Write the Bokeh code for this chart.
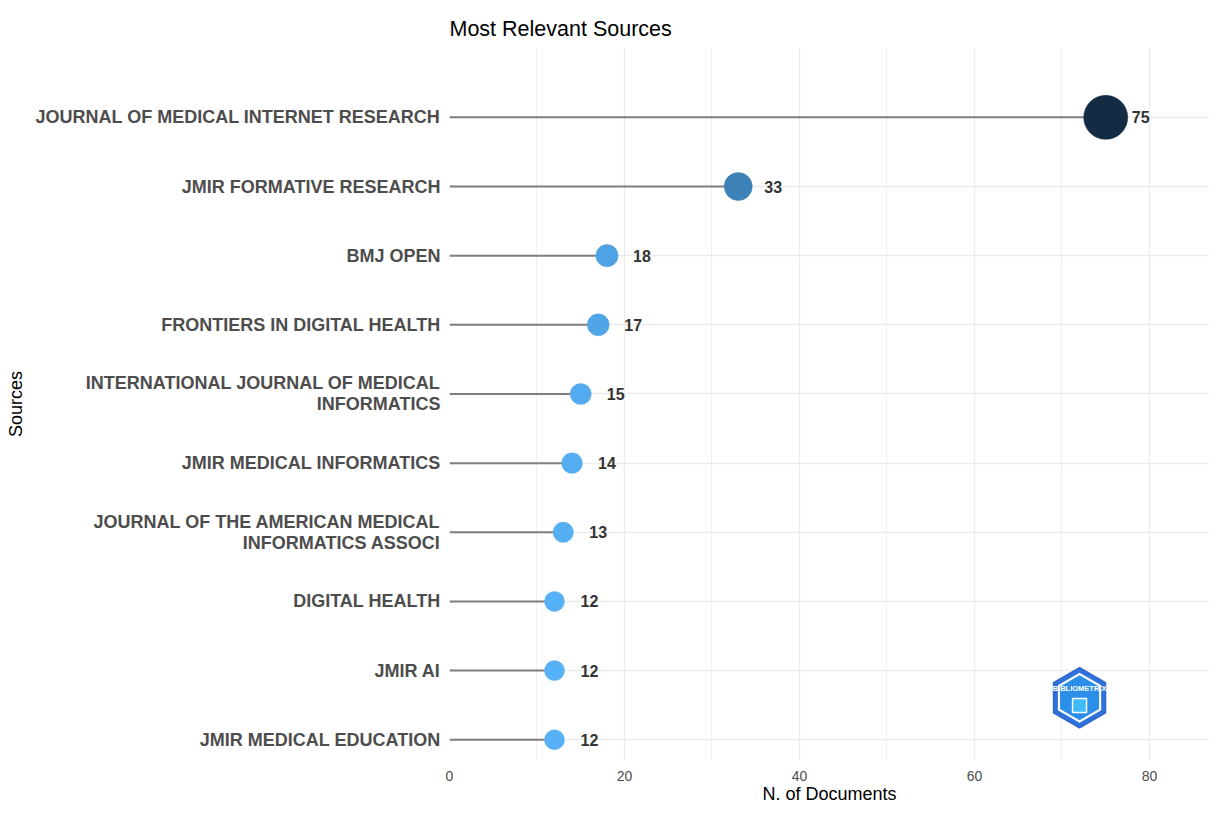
import math
from bokeh.plotting import figure
from bokeh.models import FixedTicker, SingleIntervalTicker, Range1d
from bokeh.embed import file_html
from bokeh.resources import INLINE
from bokeh.core.properties import value

# ---------------- data ----------------
sources = [
    "JOURNAL OF MEDICAL INTERNET RESEARCH",
    "JMIR FORMATIVE RESEARCH",
    "BMJ OPEN",
    "FRONTIERS IN DIGITAL HEALTH",
    "INTERNATIONAL JOURNAL OF MEDICAL\nINFORMATICS",
    "JMIR MEDICAL INFORMATICS",
    "JOURNAL OF THE AMERICAN MEDICAL\nINFORMATICS ASSOCI",
    "DIGITAL HEALTH",
    "JMIR AI",
    "JMIR MEDICAL EDUCATION",
]
documents = [75, 33, 18, 17, 15, 14, 13, 12, 12, 12]
x_tick_values = [0, 20, 40, 60, 80]

# ---------------- helpers ----------------
def _lin(c):
    c = c / 255.0
    return c / 12.92 if c <= 0.04045 else ((c + 0.055) / 1.055) ** 2.4

def _gam(c):
    c = 12.92 * c if c <= 0.0031308 else 1.055 * c ** (1 / 2.4) - 0.055
    return max(0, min(255, round(c * 255)))

def hex_to_lab(h):
    r, g, b = (_lin(int(h[i:i + 2], 16)) for i in (1, 3, 5))
    X = (0.4124 * r + 0.3576 * g + 0.1805 * b) / 0.95047
    Y = (0.2126 * r + 0.7152 * g + 0.0722 * b)
    Z = (0.0193 * r + 0.1192 * g + 0.9505 * b) / 1.08883
    f = lambda t: t ** (1 / 3) if t > 0.008856 else 7.787 * t + 16 / 116
    fx, fy, fz = f(X), f(Y), f(Z)
    return 116 * fy - 16, 500 * (fx - fy), 200 * (fy - fz)

def lab_to_hex(L, a, b):
    fy = (L + 16) / 116
    fx = fy + a / 500
    fz = fy - b / 200
    fi = lambda t: t ** 3 if t ** 3 > 0.008856 else (t - 16 / 116) / 7.787
    X, Y, Z = fi(fx) * 0.95047, fi(fy), fi(fz) * 1.08883
    r = 3.2406 * X - 1.5372 * Y - 0.4986 * Z
    g = -0.9689 * X + 1.8758 * Y + 0.0415 * Z
    bb = 0.0557 * X - 0.2040 * Y + 1.0570 * Z
    return "#%02x%02x%02x" % (_gam(r), _gam(g), _gam(bb))

low_col, high_col = "#56B1F7", "#132B43"
lab_lo, lab_hi = hex_to_lab(low_col), hex_to_lab(high_col)
vmin, vmax = min(documents), max(documents)

def colour_for(v):
    t = (v - vmin) / (vmax - vmin)
    return lab_to_hex(*[lo + (hi - lo) * t for lo, hi in zip(lab_lo, lab_hi)])

def size_for(v):
    return 20 + 24 * (v - vmin) / (vmax - vmin)

n = len(sources)
positions = [n - i for i in range(n)]  # top item highest
colours = [colour_for(v) for v in documents]
sizes = [size_for(v) for v in documents]
zeros = [0] * n
labels = [str(v) for v in documents]

FONT = "Liberation Sans"

# ---------------- figure ----------------
p = figure(
    width=1209, height=806,
    output_backend="svg", toolbar_location=None,
    x_range=Range1d(0, 86.86), y_range=Range1d(0.70, 11.01),
    min_border_left=449, min_border_right=0, min_border_top=47, min_border_bottom=40,
    title="Most Relevant Sources",
)
p.outline_line_color = None
p.background_fill_color = "white"
p.border_fill_color = "white"

p.title.text_font = FONT
p.title.text_font_size = "21.5px"
p.title.text_font_style = "normal"
p.title.text_color = "black"
p.title.align = "left"
p.title.standoff = 13

# grids
p.xaxis.ticker = SingleIntervalTicker(interval=20, num_minor_ticks=2)
p.xgrid.grid_line_color = "#EBEBEB"
p.xgrid.grid_line_width = 1.3
p.xgrid.minor_grid_line_color = "#F0F0F0"
p.xgrid.minor_grid_line_width = 1.0
p.yaxis.ticker = FixedTicker(ticks=positions)
p.ygrid.grid_line_color = "#EBEBEB"
p.ygrid.grid_line_width = 1.3

# lollipops
p.segment(x0=zeros, y0=positions, x1=documents, y1=positions,
          line_color="#7F7F7F", line_width=2)
p.scatter(x=documents, y=positions, size=sizes, fill_color=colours,
          line_color=colours, line_width=0.5)
p.text(x=documents, y=positions, text=labels, x_offset=35,
       text_align="center", text_baseline="middle",
       text_font=value(FONT), text_font_size="16px", text_font_style="bold",
       text_color="#333333")

# logo (approximation of the bibliometrix badge), placed by fractions of the ranges
xr, yr = p.x_range, p.y_range
lx = xr.start + (xr.end - xr.start) * 0.829
ly = yr.start + (yr.end - yr.start) * 0.088
dy = (yr.end - yr.start) * 0.011
p.scatter(x=[lx], y=[ly], marker="hex", size=60, angle=math.pi / 6,
          fill_color="#2F72DA", line_color="#2F6AD0", line_width=1.5)
p.scatter(x=[lx], y=[ly], marker="hex", size=50, angle=math.pi / 6,
          fill_color="white", line_color=None)
p.scatter(x=[lx], y=[ly], marker="hex", size=45, angle=math.pi / 6,
          fill_color="#2B8EE8", line_color=None)
p.scatter(x=[lx], y=[ly - dy], marker="square", size=14,
          fill_color="#3DBBF7", line_color="white", line_width=1.5)
p.text(x=[lx], y=[ly], text=["BIBLIOMETRIX"], y_offset=-9,
       text_align="center", text_baseline="middle",
       text_font=value(FONT), text_font_size="7.5px", text_font_style="bold",
       text_color="white")

# axes
p.xaxis.axis_label = "N. of Documents"
p.xaxis.axis_label_text_font = FONT
p.xaxis.axis_label_text_font_size = "18px"
p.xaxis.axis_label_text_font_style = "normal"
p.xaxis.axis_label_text_color = "black"
p.xaxis.axis_label_standoff = 0
p.xaxis.major_label_text_font = FONT
p.xaxis.major_label_text_font_size = "14px"
p.xaxis.major_label_text_color = "#4D4D4D"
p.xaxis.major_label_standoff = 4
p.xaxis.axis_line_color = None
p.xaxis.major_tick_line_color = None
p.xaxis.minor_tick_line_color = None

p.yaxis.axis_label = "Sources"
p.yaxis.axis_label_text_font = FONT
p.yaxis.axis_label_text_font_size = "18px"
p.yaxis.axis_label_text_font_style = "normal"
p.yaxis.axis_label_text_color = "black"
p.yaxis.axis_label_standoff = 6
p.yaxis.major_label_overrides = {pos: name for pos, name in zip(positions, sources)}
p.yaxis.major_label_text_font = FONT
p.yaxis.major_label_text_font_size = "18px"
p.yaxis.major_label_text_font_style = "bold"
p.yaxis.major_label_text_color = "#4D4D4D"
p.yaxis.major_label_text_line_height = 1.05
p.yaxis.major_label_standoff = 3
p.yaxis.axis_line_color = None
p.yaxis.major_tick_line_color = None
p.yaxis.minor_tick_line_color = None

open("out.html", "w").write(file_html(p, INLINE))
